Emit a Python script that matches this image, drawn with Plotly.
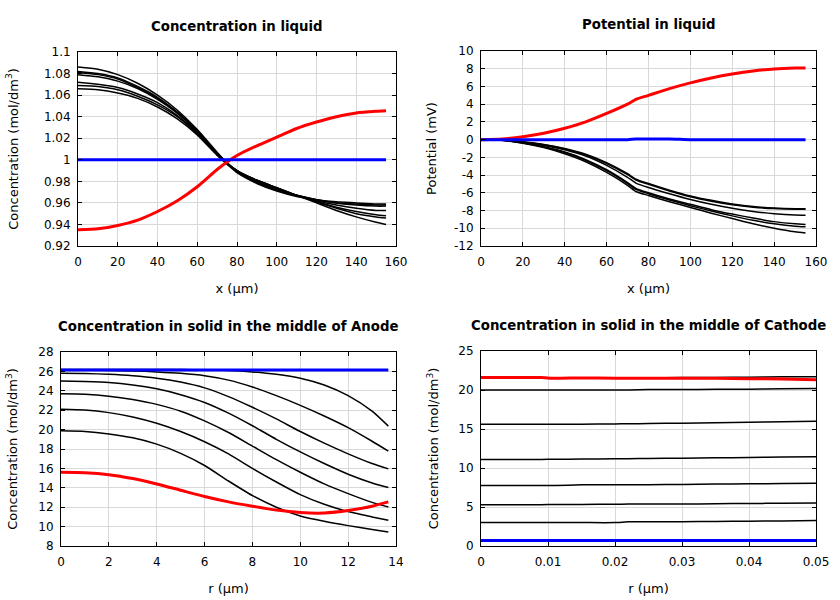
import plotly.graph_objects as go

# ---------------- data ----------------
# Concentration in liquid
x_liq = [0, 10, 20, 30, 40, 50, 60, 70, 75, 80, 90, 100, 110, 120, 130, 140, 150, 155]
liq_black = [
    [1.086, 1.084, 1.079, 1.071, 1.060, 1.046, 1.028, 1.007, 0.997, 0.990, 0.981, 0.974, 0.967, 0.960, 0.953, 0.947, 0.942, 0.940],
    [1.082, 1.080, 1.076, 1.068, 1.058, 1.044, 1.027, 1.006, 0.997, 0.990, 0.981, 0.974, 0.967, 0.961, 0.955, 0.950, 0.947, 0.946],
    [1.081, 1.079, 1.075, 1.067, 1.057, 1.044, 1.027, 1.006, 0.997, 0.990, 0.981, 0.974, 0.967, 0.961, 0.956, 0.952, 0.949, 0.948],
    [1.079, 1.077, 1.073, 1.066, 1.056, 1.043, 1.026, 1.006, 0.997, 0.990, 0.980, 0.973, 0.967, 0.962, 0.958, 0.955, 0.953, 0.953],
    [1.072, 1.070, 1.067, 1.061, 1.053, 1.041, 1.025, 1.005, 0.997, 0.989, 0.979, 0.972, 0.967, 0.963, 0.960, 0.958, 0.957, 0.957],
    [1.069, 1.068, 1.065, 1.059, 1.051, 1.040, 1.024, 1.005, 0.996, 0.989, 0.979, 0.972, 0.967, 0.963, 0.960, 0.959, 0.958, 0.958],
    [1.066, 1.065, 1.062, 1.057, 1.049, 1.038, 1.023, 1.004, 0.996, 0.988, 0.978, 0.971, 0.966, 0.963, 0.961, 0.960, 0.959, 0.959],
]
liq_red = [0.935, 0.936, 0.939, 0.944, 0.952, 0.962, 0.975, 0.991, 0.998, 1.004, 1.013, 1.021, 1.029, 1.035, 1.040, 1.0435, 1.045, 1.0455]
liq_blue = [1.0] * len(x_liq)

# Potential in liquid
x_pot = [0, 10, 20, 30, 40, 50, 60, 70, 74, 80, 90, 100, 110, 120, 130, 140, 150, 155]
pot_black = [
    [0, -0.05, -0.25, -0.55, -1.00, -1.65, -2.60, -3.85, -4.45, -4.95, -5.70, -6.35, -6.85, -7.25, -7.55, -7.72, -7.80, -7.80],
    [0, -0.05, -0.27, -0.58, -1.05, -1.72, -2.70, -3.95, -4.55, -5.05, -5.80, -6.45, -6.95, -7.35, -7.62, -7.78, -7.84, -7.85],
    [0, -0.06, -0.30, -0.65, -1.15, -1.85, -2.90, -4.25, -4.90, -5.40, -6.10, -6.75, -7.30, -7.75, -8.10, -8.35, -8.50, -8.52],
    [0, -0.07, -0.35, -0.80, -1.40, -2.25, -3.40, -4.85, -5.50, -6.00, -6.70, -7.30, -7.90, -8.40, -8.85, -9.25, -9.50, -9.57],
    [0, -0.07, -0.37, -0.83, -1.45, -2.32, -3.50, -4.95, -5.62, -6.10, -6.80, -7.45, -8.05, -8.60, -9.10, -9.50, -9.78, -9.84],
    [0, -0.08, -0.40, -0.90, -1.60, -2.50, -3.70, -5.15, -5.85, -6.30, -7.00, -7.65, -8.30, -8.90, -9.50, -10.00, -10.40, -10.52],
]
pot_red = [0, 0.08, 0.33, 0.72, 1.28, 2.0, 2.95, 4.0, 4.55, 5.0, 5.75, 6.4, 6.95, 7.4, 7.75, 7.97, 8.07, 8.08]
pot_blue = [0, 0, 0, 0, 0, 0, 0, 0, 0.08, 0.08, 0.08, 0, 0, 0, 0, 0, 0, 0]

# Concentration in solid, anode
r_an = [0, 1, 2, 3, 4, 5, 6, 7, 8, 9, 10, 11, 12, 13, 13.68]
an_black = [
    [26.2, 26.2, 26.2, 26.2, 26.2, 26.2, 26.15, 26.1, 25.95, 25.7, 25.3, 24.6, 23.5, 21.9, 20.36],
    [26.15, 26.15, 26.1, 26.05, 25.95, 25.8, 25.55, 25.1, 24.4, 23.5, 22.5, 21.4, 20.2, 18.8, 17.78],
    [25.8, 25.78, 25.7, 25.55, 25.3, 24.9, 24.3, 23.4, 22.3, 21.1, 19.8, 18.6, 17.5, 16.5, 15.95],
    [25.0, 24.95, 24.85, 24.6, 24.2, 23.6, 22.8, 21.7, 20.4, 19.0, 17.7, 16.5, 15.4, 14.5, 14.03],
    [23.7, 23.65, 23.45, 23.1, 22.6, 21.9, 20.9, 19.7, 18.3, 16.9, 15.6, 14.4, 13.4, 12.5, 12.03],
    [22.1, 22.02, 21.75, 21.3, 20.65, 19.8, 18.75, 17.5, 16.0, 14.6, 13.3, 12.3, 11.55, 11.0, 10.65],
    [19.87, 19.8, 19.55, 19.15, 18.5, 17.55, 16.3, 14.7, 13.2, 12.0, 11.1, 10.55, 10.1, 9.7, 9.45],
]
an_red = [15.6, 15.55, 15.35, 14.95, 14.4, 13.75, 13.1, 12.55, 12.1, 11.7, 11.45, 11.4, 11.65, 12.1, 12.55]
an_blue = [26.15] * len(r_an)

# Concentration in solid, cathode
r_ca = [0, 0.005, 0.009, 0.011, 0.015, 0.02, 0.022, 0.025, 0.03, 0.035, 0.04, 0.045, 0.05]
ca_black = [
    [21.6, 21.6, 21.6, 21.55, 21.55, 21.55, 21.55, 21.55, 21.6, 21.6, 21.65, 21.7, 21.7],
    [20.0, 20.0, 20.0, 20.0, 20.0, 20.0, 20.0, 20.05, 20.05, 20.1, 20.1, 20.15, 20.2],
    [15.6, 15.6, 15.6, 15.6, 15.62, 15.65, 15.67, 15.7, 15.75, 15.8, 15.87, 15.93, 16.0],
    [11.1, 11.1, 11.1, 11.12, 11.15, 11.18, 11.2, 11.22, 11.26, 11.3, 11.35, 11.4, 11.45],
    [7.75, 7.75, 7.75, 7.75, 7.85, 7.85, 7.85, 7.85, 7.9, 7.95, 7.97, 8.0, 8.05],
    [5.3, 5.3, 5.3, 5.32, 5.33, 5.35, 5.37, 5.4, 5.38, 5.42, 5.45, 5.48, 5.5],
    [3.0, 3.0, 3.0, 3.0, 3.0, 3.0, 3.1, 3.1, 3.12, 3.15, 3.18, 3.22, 3.26],
]
ca_red = [21.6, 21.6, 21.6, 21.5, 21.55, 21.5, 21.5, 21.5, 21.5, 21.5, 21.45, 21.4, 21.3]
ca_blue = [0.7] * len(r_ca)

# tick labels
liq_xticks = [0, 20, 40, 60, 80, 100, 120, 140, 160]
liq_yticks = [0.92, 0.94, 0.96, 0.98, 1.0, 1.02, 1.04, 1.06, 1.08, 1.1]
liq_ytext = ["0.92", "0.94", "0.96", "0.98", "1", "1.02", "1.04", "1.06", "1.08", "1.1"]
pot_yticks = [-12, -10, -8, -6, -4, -2, 0, 2, 4, 6, 8, 10]
pot_ytext = ["-12", "-10", "-8", "-6", "-4", "-2", "0", "2", "4", "6", "8", "10"]
an_xticks = [0, 2, 4, 6, 8, 10, 12, 14]
an_yticks = [8, 10, 12, 14, 16, 18, 20, 22, 24, 26, 28]
ca_xticks = [0, 0.01, 0.02, 0.03, 0.04, 0.05]
ca_xtext = ["0", "0.01", "0.02", "0.03", "0.04", "0.05"]
ca_yticks = [0, 5, 10, 15, 20, 25]

titles = ["Concentration in liquid", "Potential in liquid",
          "Concentration in solid in the middle of Anode",
          "Concentration in solid in the middle of Cathode"]

# ---------------- figure ----------------
W, H = 840, 600
FONT = "DejaVu Sans"
fig = go.Figure()

def add(xs, ys, color, width, ax):
    fig.add_trace(go.Scatter(x=xs, y=ys, mode="lines", line=dict(color=color, width=width, shape="spline", smoothing=0.6),
                             xaxis="x" + ax, yaxis="y" + ax, showlegend=False, hoverinfo="skip"))

panels = [
    ("", x_liq, liq_black, liq_red, liq_blue),
    ("2", x_pot, pot_black, pot_red, pot_blue),
    ("3", r_an, an_black, an_red, an_blue),
    ("4", r_ca, ca_black, ca_red, ca_blue),
]
for ax, xs, blacks, red, blue in panels:
    for b in blacks:
        add(xs, b, "black", 1.5, ax)
    add(xs, red, "#ff0000", 3, ax)
    add(xs, blue, "#0000ff", 3, ax)

# plot areas in pixels: (x0, x1, ytop, ybottom)
areas = [(78, 396, 52, 246), (481, 816, 51, 246), (61, 396, 352, 546), (481, 816, 351, 546)]

def axis_common():
    return dict(showline=True, linecolor="black", linewidth=1, mirror="ticks", ticks="inside", ticklen=4,
                tickcolor="black", showgrid=True, gridcolor="#d9d9d9", gridwidth=1, zeroline=False,
                tickfont=dict(family=FONT, size=12, color="black"), automargin=False)

xspecs = [
    dict(range=[0, 160], tickvals=liq_xticks, title="x (μm)"),
    dict(range=[0, 160], tickvals=liq_xticks, title="x (μm)"),
    dict(range=[0, 14], tickvals=an_xticks, title="r (μm)"),
    dict(range=[0, 0.05], tickvals=ca_xticks, ticktext=ca_xtext, title="r (μm)"),
]
yspecs = [
    dict(range=[0.92, 1.1], tickvals=liq_yticks, ticktext=liq_ytext, title="Concentration (mol/dm<sup>3</sup>)", standoff=22),
    dict(range=[-12, 10], tickvals=pot_yticks, ticktext=pot_ytext, title="Potential (mV)", standoff=14),
    dict(range=[8, 28], tickvals=an_yticks, title="Concentration (mol/dm<sup>3</sup>)", standoff=17),
    dict(range=[0, 25], tickvals=ca_yticks, title="Concentration (mol/dm<sup>3</sup>)", standoff=16),
]

layout = dict(width=W, height=H, margin=dict(l=0, r=0, t=0, b=0), plot_bgcolor="white", paper_bgcolor="white",
              font=dict(family=FONT, size=12, color="black"), annotations=[], hovermode=False)
for i, ((x0, x1, yt, yb), xs, ys) in enumerate(zip(areas, xspecs, yspecs)):
    suf = "" if i == 0 else str(i + 1)
    xa = axis_common()
    xa.update(domain=[x0 / W, x1 / W], anchor="y" + suf, range=xs["range"], tickvals=xs["tickvals"],
              ticklabelstandoff=5,
              title=dict(text=xs["title"], font=dict(family=FONT, size=13), standoff=15))
    if "ticktext" in xs:
        xa["ticktext"] = xs["ticktext"]
    ya = axis_common()
    ya.update(domain=[1 - yb / H, 1 - yt / H], anchor="x" + suf, range=ys["range"], tickvals=ys["tickvals"],
              ticklabelstandoff=4,
              title=dict(text=ys["title"], font=dict(family=FONT, size=13), standoff=ys["standoff"]))
    if "ticktext" in ys:
        ya["ticktext"] = ys["ticktext"]
    layout["xaxis" + suf] = xa
    layout["yaxis" + suf] = ya
    layout["annotations"].append(dict(text="<b>" + titles[i] + "</b>", x=(x0 + x1) / 2 / W, y=1 - (yt - 26) / H,
                                      xref="paper", yref="paper", showarrow=False, xanchor="center", yanchor="middle",
                                      font=dict(family=FONT, size=13.3, color="black")))

fig.update_layout(**layout)
fig.write_html("out.html", config={"displayModeBar": False},
               post_script="document.body.style.margin='0px';")
